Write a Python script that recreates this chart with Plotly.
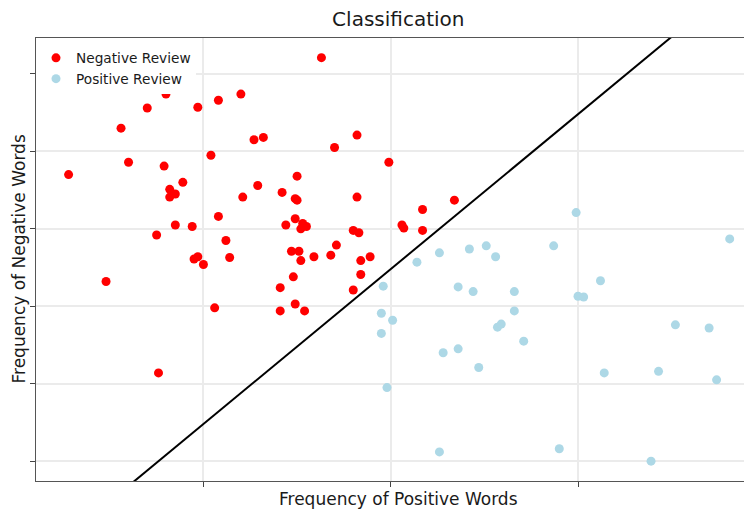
import plotly.graph_objects as go

# Negative reviews (red)
neg_pos_freq = [0.80, 0.70, 0.97, 1.08, 1.20, 0.56, 1.27, 1.32, 1.04, 0.60,
                0.79, 0.28, 0.89, 0.82, 0.85, 0.82, 1.29, 1.21, 1.08, 0.85,
                0.94, 0.75, 1.12, 0.97, 0.95, 1.00, 1.14, 0.48, 1.06, 0.76,
                1.63, 1.82, 1.70, 1.99, 1.50, 1.42, 1.49, 1.50, 1.82, 2.34,
                2.17, 1.49, 1.44, 1.53, 1.52, 1.55, 1.80, 1.83, 2.06, 2.07,
                2.17, 1.71, 1.47, 1.51, 1.52, 1.59, 1.68, 1.84, 1.89, 1.48,
                1.41, 1.84, 1.80, 1.49, 1.41, 1.54]
neg_neg_freq = [5.74, 5.56, 5.57, 5.66, 5.74, 5.30, 5.15, 5.18, 4.95, 4.86,
                4.81, 4.70, 4.60, 4.51, 4.45, 4.41, 4.56, 4.41, 4.16, 4.05,
                4.03, 3.92, 3.85, 3.64, 3.61, 3.54, 3.63, 3.32, 2.98, 2.14,
                6.21, 5.21, 5.05, 4.86, 4.68, 4.47, 4.39, 4.37, 4.41, 4.37,
                4.25, 4.13, 4.05, 4.07, 4.00, 4.03, 3.98, 3.95, 4.05, 4.01,
                3.98, 3.79, 3.71, 3.71, 3.59, 3.64, 3.66, 3.59, 3.64, 3.38,
                3.24, 3.41, 3.21, 3.03, 2.94, 2.94]

# Positive reviews (light blue)
pos_pos_freq = [2.14, 2.26, 2.42, 2.51, 2.56, 2.87, 2.99, 3.81, 3.12, 1.96,
                2.36, 2.44, 2.66, 3.00, 3.03, 1.95, 2.01, 1.95, 2.66, 2.57,
                2.59, 2.71, 2.28, 2.36, 2.47, 1.98, 3.52, 3.70, 3.14, 3.43,
                3.74, 2.26, 2.90, 3.39]
pos_neg_freq = [3.57, 3.69, 3.74, 3.78, 3.64, 3.78, 4.21, 3.87, 3.33, 3.26,
                3.25, 3.19, 3.19, 3.13, 3.12, 2.91, 2.82, 2.65, 2.94, 2.73,
                2.77, 2.55, 2.40, 2.45, 2.21, 1.95, 2.76, 2.72, 2.14, 2.16,
                2.05, 1.12, 1.16, 1.00]

# Decision boundary y = slope * x + intercept
boundary_slope = 2.0
boundary_intercept = -0.52
boundary_x = [0.0, 4.0]
boundary_y = [boundary_slope * v + boundary_intercept for v in boundary_x]

x_ticks = [1, 2, 3]
y_ticks = [1, 2, 3, 4, 5, 6]
x_range = [0.106, 3.929]
y_range = [0.744, 6.464]

font_family = "DejaVu Sans"

fig = go.Figure()
fig.add_trace(go.Scatter(
    x=boundary_x, y=boundary_y, mode="lines",
    line=dict(color="black", width=2), showlegend=False, hoverinfo="skip"))
fig.add_trace(go.Scatter(
    x=neg_pos_freq, y=neg_neg_freq, mode="markers", name="Negative Review",
    marker=dict(color="#ff0000", size=9, line=dict(width=0))))
fig.add_trace(go.Scatter(
    x=pos_pos_freq, y=pos_neg_freq, mode="markers", name="Positive Review",
    marker=dict(color="#add8e6", size=9, line=dict(width=0))))

fig.update_layout(
    width=744, height=502,
    margin=dict(l=28, r=0, t=30, b=29),
    paper_bgcolor="white", plot_bgcolor="white",
    font=dict(family=font_family, color="#1a1a1a"),
    title=dict(text="Classification", x=0.506, xref="paper", xanchor="center",
               y=0.978, yanchor="middle", font=dict(size=20, color="#1a1a1a")),
    legend=dict(x=0.0, y=0.990, xanchor="left", yanchor="top",
                bgcolor="white", borderwidth=0, font=dict(size=13.7),
                itemwidth=30, tracegroupgap=0),
    xaxis=dict(range=x_range, tickvals=x_ticks, showticklabels=False,
               ticks="outside", ticklen=5, tickcolor="#444",
               showgrid=True, gridcolor="#ebebeb", gridwidth=1.5,
               showline=True, linecolor="#555", linewidth=1, mirror=True,
               zeroline=False),
    yaxis=dict(range=y_range, tickvals=y_ticks, showticklabels=False,
               ticks="outside", ticklen=5, tickcolor="#444",
               showgrid=True, gridcolor="#ebebeb", gridwidth=1.5,
               showline=True, linecolor="#555", linewidth=1,
               zeroline=False),
    annotations=[
        dict(text="Frequency of Positive Words", xref="paper", yref="paper",
             x=0.506, y=-0.0406, xanchor="center", yanchor="middle",
             showarrow=False, font=dict(size=17, color="#1a1a1a")),
        dict(text="Frequency of Negative Words", xref="paper", yref="paper",
             x=-0.0251, y=0.5, xanchor="center", yanchor="middle",
             textangle=-90, showarrow=False, font=dict(size=17, color="#1a1a1a")),
    ],
)

fig.write_html("out.html")
